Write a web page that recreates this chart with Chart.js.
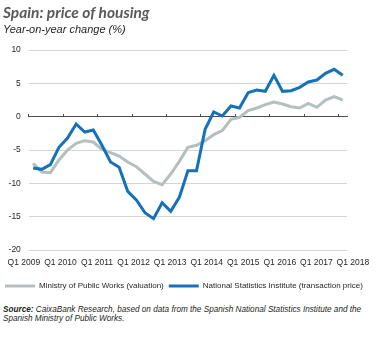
<!DOCTYPE html>
<html>
<head>
<meta charset="utf-8">
<script src="https://cdn.jsdelivr.net/npm/chart.js@4.4.1/dist/chart.umd.min.js"></script>
<style>
  body { margin: 0; background: #fff; }
  #box { position: relative; width: 382px; height: 338px; overflow: hidden; background: #fff; }
  #plot { position: absolute; left: 0; top: 0; width: 382px; height: 300px; }
  .title { position: absolute; left: 3px; top: 3px; line-height: 1; font: italic bold 15.5px Lato, sans-serif; color: #58595b; white-space: nowrap; }
  .sub { position: absolute; left: 3px; top: 23px; line-height: 1; font: italic 11px "Liberation Sans", sans-serif; color: #231f20; white-space: nowrap; }
  .src { position: absolute; left: 3px; top: 305px; line-height: 11px; font: italic 8.2px "Liberation Sans", sans-serif; color: #231f20; white-space: nowrap; }
  .src b { font-weight: bold; }
</style>
</head>
<body>
<div id="box">
  <div id="plot"><canvas id="housingChart"></canvas></div>
  <div class="title">Spain: price of housing</div>
  <div class="sub">Year-on-year change (%)</div>
  <div class="src"><b>Source:</b> CaixaBank Research, based on data from the Spanish National Statistics Institute and the<br>Spanish Ministry of Public Works.</div>
</div>
<script>
// quarterly categories, Q1 2009 .. Q1 2018
const quarters = [
  "Q1 2009", "Q2 2009", "Q3 2009", "Q4 2009",
  "Q1 2010", "Q2 2010", "Q3 2010", "Q4 2010",
  "Q1 2011", "Q2 2011", "Q3 2011", "Q4 2011",
  "Q1 2012", "Q2 2012", "Q3 2012", "Q4 2012",
  "Q1 2013", "Q2 2013", "Q3 2013", "Q4 2013",
  "Q1 2014", "Q2 2014", "Q3 2014", "Q4 2014",
  "Q1 2015", "Q2 2015", "Q3 2015", "Q4 2015",
  "Q1 2016", "Q2 2016", "Q3 2016", "Q4 2016",
  "Q1 2017", "Q2 2017", "Q3 2017", "Q4 2017",
  "Q1 2018"
];

// year-on-year change (%)
const ministry = [
  -7.0, -8.3, -8.4, -6.5, -5.0, -4.0, -3.6, -3.8, -4.9, -5.4,
  -5.9, -6.8, -7.5, -8.6, -9.7, -10.2, -8.6, -6.7, -4.6, -4.3,
  -3.6, -2.7, -2.1, -0.4, -0.1, 0.9, 1.3, 1.8, 2.2, 1.9,
  1.5, 1.3, 2.0, 1.4, 2.5, 3.0, 2.5
];
const ine = [
  -7.7, -7.9, -7.2, -4.6, -3.2, -1.1, -2.3, -2.0, -4.3, -6.8,
  -7.6, -11.2, -12.5, -14.4, -15.3, -12.9, -14.2, -12.1, -8.1, -8.1,
  -1.9, 0.7, 0.1, 1.6, 1.3, 3.6, 4.0, 3.8, 6.2, 3.8,
  3.9, 4.4, 5.2, 5.5, 6.5, 7.1, 6.2
];

const yearLabels = ["Q1 2009", "Q1 2010", "Q1 2011", "Q1 2012", "Q1 2013",
  "Q1 2014", "Q1 2015", "Q1 2016", "Q1 2017", "Q1 2018"];

const smallFont = { family: "'Liberation Sans', Arial, sans-serif", size: 8.5 };

new Chart(document.getElementById("housingChart"), {
  type: "line",
  data: {
    labels: quarters,
    datasets: [
      {
        label: "Ministry of Public Works (valuation)",
        data: ministry,
        borderColor: "#b5bfbf",
        backgroundColor: "#b5bfbf",
        borderWidth: 3,
        pointRadius: 0,
        tension: 0,
        order: 1
      },
      {
        label: "National Statistics Institute (transaction price)",
        data: ine,
        borderColor: "#1672b8",
        backgroundColor: "#1672b8",
        borderWidth: 3,
        pointRadius: 0,
        tension: 0,
        order: 0
      }
    ]
  },
  options: {
    responsive: true,
    maintainAspectRatio: false,
    animation: false,
    layout: { padding: { top: 50, right: 0, bottom: 0, left: 0 } },
    plugins: {
      tooltip: { enabled: false },
      legend: {
        position: "bottom",
        align: "start",
        labels: {
          usePointStyle: true,
          pointStyle: "line",
          pointStyleWidth: 30,
          padding: 5,
          color: "#231f20",
          font: { family: "'Liberation Sans', Arial, sans-serif", size: 8 },
          sort: (a, b) => a.datasetIndex - b.datasetIndex
        }
      }
    },
    scales: {
      // quarter axis sitting on the zero line, small ticks at each Q1
      x: {
        position: { y: 0 },
        offset: true,
        ticks: { display: false },
        grid: {
          offset: true,
          drawOnChartArea: false,
          drawTicks: true,
          tickLength: -3,
          tickWidth: 1,
          tickColor: ctx => (ctx.index % 4 === 0 ? "#4d4d4d" : "rgba(0,0,0,0)")
        },
        border: { display: true, color: "#4d4d4d", width: 1 }
      },
      // year labels along the bottom
      xl: {
        type: "linear",
        position: "bottom",
        min: 0.135,
        max: 8.838,
        afterBuildTicks: s => { s.ticks = yearLabels.map((_, i) => ({ value: i })); },
        afterFit: s => { s.height = 27; },
        grid: { display: false, drawTicks: false },
        border: { display: false },
        ticks: {
          autoSkip: false,
          maxRotation: 0,
          padding: 8,
          color: "#231f20",
          font: smallFont,
          callback: v => yearLabels[Math.round(v)]
        }
      },
      y: {
        min: -20,
        max: 10,
        afterFit: s => { s.width = 25; },
        ticks: { stepSize: 5, padding: 8, color: "#231f20", font: smallFont },
        grid: { color: "#d6d6d6", lineWidth: 1, drawTicks: false },
        border: { display: false }
      },
      // empty right margin so the plot stops short of the last year label
      yr: {
        position: "right",
        afterFit: s => { s.width = 35; },
        ticks: { display: false },
        grid: { display: false, drawTicks: false },
        border: { display: false }
      }
    }
  }
});
</script>
</body>
</html>
